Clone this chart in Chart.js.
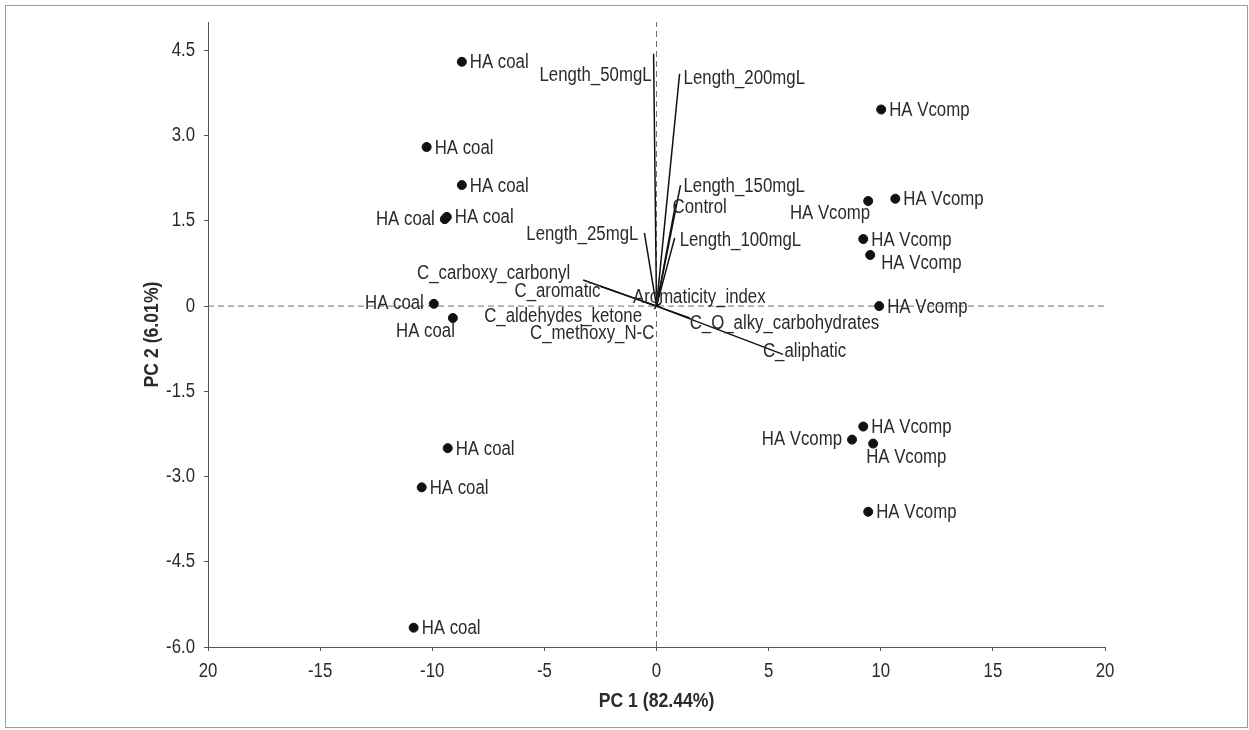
<!DOCTYPE html>
<html>
<head>
<meta charset="utf-8">
<script src="https://cdn.jsdelivr.net/npm/chart.js@4/dist/chart.umd.min.js"></script>
<style>
  body { margin: 0; background: #fff; }
  #wrap { position: relative; width: 1249px; height: 730px; }
  #frame { position: absolute; left: 5px; top: 5px; width: 1241px; height: 721px; border: 1px solid #9a9a9a; pointer-events: none; }
</style>
</head>
<body>
<div id="wrap">
  <canvas id="pcaChart" width="1249" height="730"></canvas>
  <div id="frame"></div>
</div>
<script>
// sample scores (PC1, PC2)
const coalPC1 = [-8.68, -10.25, -8.68, -9.35, -9.44, -9.93, -9.08, -9.31, -10.47, -10.83];
const coalPC2 = [4.30, 2.80, 2.13, 1.57, 1.53, 0.04, -0.21, -2.50, -3.19, -5.66];
const vcompPC1 = [10.02, 10.65, 9.44, 9.22, 9.53, 9.93, 9.22, 8.72, 9.66, 9.44];
const vcompPC2 = [3.46, 1.89, 1.85, 1.18, 0.90, 0.00, -2.12, -2.35, -2.42, -3.62];

// variable loadings (vector end points)
const loadingNames = ["Length_50mgL", "Length_200mgL", "Length_150mgL", "Control", "Length_100mgL",
  "Length_25mgL", "C_carboxy_carbonyl", "C_aromatic", "C_aldehydes_ketone", "C_methoxy_N-C",
  "Aromaticity_index", "C_O_alky_carbohydrates", "C_aliphatic"];
const loadingPC1 = [-0.13, 1.03, 1.07, 0.85, 0.81, -0.54, -3.27, -2.50, -0.60, -0.10, 0.20, 1.48, 5.64];
const loadingPC2 = [4.44, 4.09, 2.13, 1.80, 1.20, 1.29, 0.46, 0.35, 0.08, -0.05, 0.05, -0.21, -0.85];

// axes
const xMin = -20, xMax = 20, xStep = 5;
const yMin = -6, yMax = 5;
const yTickValues = [-6, -4.5, -3, -1.5, 0, 1.5, 3, 4.5];
const xTitle = "PC 1 (82.44%)";
const yTitle = "PC 2 (6.01%)";

// label placement (style only)
const coalLabelSide = ["r", "r", "r", "r", "l", "l", "bl", "r", "r", "r"];
const vcompLabelSide = ["r", "r", "bl", "r", "br", "r", "r", "l", "b", "r"];
// [align, dx, dy] in pixels from vector end
const loadingLabelStyle = [
  ["right", -2, 22], ["left", 4, 5], ["left", 3, 1], ["left", -3, 4], ["left", 5, 3],
  ["right", -6, 2], ["right", -13, -6], ["right", 0, 5], ["right", -1, 15], ["right", 0, 25],
  ["left", -28, -6], ["left", 0, 5], ["left", -20, -3]
];

// check for a narrow font, otherwise squeeze a regular one
const probe = document.createElement("canvas").getContext("2d");
function probeWidth(f) { probe.font = f; return probe.measureText("HA Vcomp 0123").width; }
const hasNarrow = probeWidth('20px "Liberation Sans Narrow", monospace') !== probeWidth("20px monospace");
const labelFamily = hasNarrow ? '"Liberation Sans Narrow"' : '"Liberation Sans"';
const squeeze = hasNarrow ? 1 : 0.84;
const textColor = "#2b2b2b";

function toPoints(xs, ys) {
  return xs.map((v, i) => ({ x: v, y: ys[i] }));
}

function drawText(ctx, text, x, y, align, font, rotate) {
  ctx.save();
  ctx.translate(x, y);
  if (rotate) ctx.rotate(-Math.PI / 2);
  ctx.scale(squeeze, 1);
  ctx.font = (font || "20px") + " " + labelFamily;
  ctx.fillStyle = textColor;
  ctx.textAlign = align;
  ctx.textBaseline = "middle";
  ctx.fillText(text, 0, 0);
  ctx.restore();
}

function sideOffset(side) {
  switch (side) {
    case "l": return ["right", -10, 0];
    case "bl": return ["right", 2, 13];
    case "br": return ["left", 11, 9];
    case "b": return ["left", -7, 14];
    default: return ["left", 8, 1];
  }
}

const labelPlugin = {
  id: "biplotLabels",
  afterDatasetsDraw(chart) {
    const ctx = chart.ctx;
    const xs = chart.scales.x, ys = chart.scales.y;
    function pointLabels(px, py, sides, name) {
      px.forEach((v, i) => {
        const s = sideOffset(sides[i]);
        drawText(ctx, name, xs.getPixelForValue(v) + s[1], ys.getPixelForValue(py[i]) + s[2], s[0]);
      });
    }
    pointLabels(coalPC1, coalPC2, coalLabelSide, "HA coal");
    pointLabels(vcompPC1, vcompPC2, vcompLabelSide, "HA Vcomp");
    loadingNames.forEach((n, i) => {
      const st = loadingLabelStyle[i];
      drawText(ctx, n, xs.getPixelForValue(loadingPC1[i]) + st[1], ys.getPixelForValue(loadingPC2[i]) + st[2], st[0]);
    });
  },
  afterDraw(chart) {
    // tick labels and titles in a condensed face, placed from the scales
    const ctx = chart.ctx;
    const xs = chart.scales.x, ys = chart.scales.y;
    xs.ticks.forEach((t, i) => {
      drawText(ctx, t.label, xs.getPixelForTick(i), xs.top + 24, "center");
    });
    ys.ticks.forEach((t, i) => {
      drawText(ctx, t.label, ys.right - 13, ys.getPixelForTick(i), "right");
    });
    const area = chart.chartArea;
    drawText(ctx, xTitle, (area.left + area.right) / 2, xs.top + 54, "center", "bold 21px");
    drawText(ctx, yTitle, ys.left + 12, (area.top + area.bottom) / 2, "center", "bold 21px", true);
  }
};

const datasets = [
  { type: "scatter", label: "HA coal", data: toPoints(coalPC1, coalPC2),
    backgroundColor: "#111", borderColor: "#111", pointRadius: 4.5 },
  { type: "scatter", label: "HA Vcomp", data: toPoints(vcompPC1, vcompPC2),
    backgroundColor: "#111", borderColor: "#111", pointRadius: 4.5 }
];
loadingNames.forEach((n, i) => {
  datasets.push({ type: "line", label: n, data: [{ x: 0, y: 0 }, { x: loadingPC1[i], y: loadingPC2[i] }],
    borderColor: "#111", borderWidth: 1.5, pointRadius: 0, fill: false });
});
datasets.push({ type: "line", label: "zeroX", data: [{ x: xMin, y: 0 }, { x: xMax, y: 0 }],
  borderColor: "#707070", borderWidth: 1, borderDash: [6, 4], pointRadius: 0 });
datasets.push({ type: "line", label: "zeroY", data: [{ x: 0, y: yMin }, { x: 0, y: yMax }],
  borderColor: "#707070", borderWidth: 1, borderDash: [6, 4], pointRadius: 0 });

new Chart(document.getElementById("pcaChart"), {
  type: "scatter",
  data: { datasets: datasets },
  plugins: [labelPlugin],
  options: {
    responsive: false,
    animation: false,
    devicePixelRatio: 1,
    layout: { padding: { left: 140, right: 144, top: 22, bottom: 0 } },
    plugins: { legend: { display: false }, tooltip: { enabled: false } },
    scales: {
      x: {
        type: "linear", min: xMin, max: xMax,
        afterFit: (s) => { s.height = 83; },
        grid: { drawOnChartArea: false, drawTicks: true, tickLength: 4, color: "#555" },
        border: { color: "#555", width: 1 },
        ticks: { stepSize: xStep, padding: 6, color: "rgba(0,0,0,0)",
          font: { size: 18 },
          callback: (v) => (v === -20 ? "20" : String(v)) }
      },
      y: {
        type: "linear", min: yMin, max: yMax,
        afterFit: (s) => { s.width = 68; },
        afterBuildTicks: (s) => { s.ticks = yTickValues.map((v) => ({ value: v })); },
        grid: { drawOnChartArea: false, drawTicks: true, tickLength: 4, color: "#555" },
        border: { color: "#555", width: 1 },
        ticks: { padding: 9, color: "rgba(0,0,0,0)",
          font: { size: 18 },
          callback: (v) => (v === 0 ? "0" : v.toFixed(1)) }
      }
    }
  }
});
</script>
</body>
</html>
